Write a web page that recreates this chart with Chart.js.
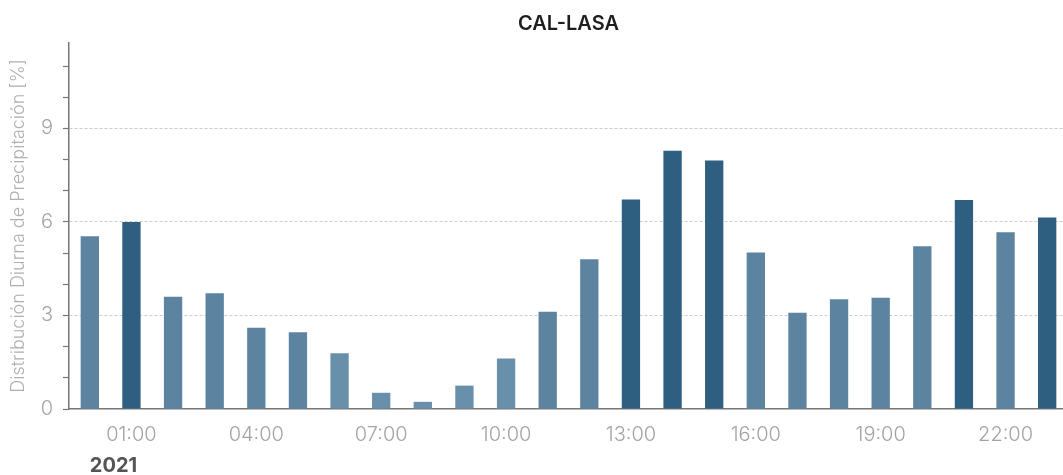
<!DOCTYPE html>
<html>
<head>
<meta charset="utf-8">
<script src="https://cdn.jsdelivr.net/npm/chart.js@4/dist/chart.umd.min.js"></script>
<style>
  html, body { margin: 0; padding: 0; background: #ffffff; overflow: hidden; }
  #wrap { width: 1070px; height: 475px; position: relative; }
</style>
</head>
<body>
<div id="wrap"><canvas id="c"></canvas></div>
<script>
const chartTitle = 'CAL-LASA';
const yAxisTitle = 'Distribución Diurna de Precipitación [%]';
const yearLabel = '2021';
const hours = ['00:00','01:00','02:00','03:00','04:00','05:00','06:00','07:00','08:00','09:00','10:00','11:00',
               '12:00','13:00','14:00','15:00','16:00','17:00','18:00','19:00','20:00','21:00','22:00','23:00'];
const precipPct = [5.54, 6.0, 3.6, 3.71, 2.61, 2.46, 1.79, 0.52, 0.23, 0.75, 1.62, 3.12,
                   4.8, 6.72, 8.28, 7.97, 5.02, 3.09, 3.52, 3.57, 5.22, 6.7, 5.67, 6.14];
const yTickLabels = [3, 6, 9];

function barColor(v) {
  if (v >= 5.9) return '#2f5f80';
  if (v < 2) return '#6890ab';
  return '#5c83a0';
}

const yearPlugin = {
  id: 'yearLabel',
  afterDraw(chart) {
    const ctx = chart.ctx;
    const xs = chart.scales.x;
    ctx.save();
    ctx.font = 'bold 20px Inter, Lato, sans-serif';
    ctx.fillStyle = '#555555';
    ctx.textAlign = 'left';
    ctx.textBaseline = 'middle';
    ctx.fillText(yearLabel, xs.getPixelForValue(0), chart.chartArea.bottom + 57);
    ctx.restore();
  }
};

new Chart(document.getElementById('c'), {
  type: 'bar',
  data: {
    labels: hours,
    datasets: [{
      data: precipPct,
      backgroundColor: precipPct.map(barColor),
      barPercentage: 0.44,
      categoryPercentage: 1.0
    }]
  },
  plugins: [yearPlugin],
  options: {
    responsive: true,
    maintainAspectRatio: false,
    animation: false,
    layout: { padding: { left: 0, right: 2, top: 0, bottom: 0 } },
    plugins: {
      legend: { display: false },
      tooltip: { enabled: false },
      title: {
        display: true,
        text: chartTitle,
        fullSize: false,
        color: '#1e1e1e',
        font: { family: 'Inter, "Open Sans", sans-serif', size: 20, weight: '600' },
        padding: { top: 12, bottom: 7 }
      }
    },
    scales: {
      x: {
        grid: { display: false, drawTicks: false },
        border: { display: true, color: '#777777', width: 1.5 },
        ticks: {
          autoSkip: false,
          maxRotation: 0,
          minRotation: 0,
          padding: 14,
          color: '#a3a3a3',
          font: { family: 'Inter, Lato, sans-serif', size: 20, weight: '300' },
          callback: function(val, idx) { return idx % 3 === 1 ? hours[idx] : ''; }
        },
        afterFit(scale) { scale.height = 66; }
      },
      y: {
        min: 0,
        max: 11.74,
        border: { display: true, color: '#777777', width: 1.5, dash: [3, 2] },
        grid: {
          drawOnChartArea: true,
          drawTicks: true,
          tickLength: 6,
          tickBorderDash: [],
          lineWidth: 1,
          tickWidth: 1.2,
          tickColor: '#777777',
          color: ctx => (ctx.tick && yTickLabels.includes(ctx.tick.value)) ? '#cccccc' : 'rgba(0,0,0,0)'
        },
        ticks: {
          stepSize: 1,
          includeBounds: false,
          padding: 10,
          color: '#a3a3a3',
          font: { family: 'Inter, Lato, sans-serif', size: 20, weight: '300' },
          callback: v => (v === 0 || yTickLabels.includes(v)) ? String(v) : ''
        },
        title: {
          display: true,
          text: yAxisTitle,
          color: '#b0b0b0',
          font: { family: 'Inter, Lato, sans-serif', size: 18, weight: '300' },
          padding: { top: 8, bottom: 0 }
        },
        afterFit(scale) { scale.width = 69; }
      }
    }
  }
});
</script>
</body>
</html>
